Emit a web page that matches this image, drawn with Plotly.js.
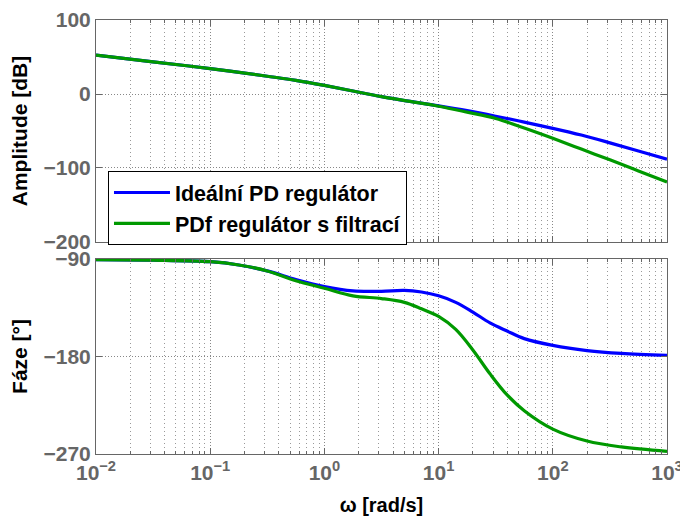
<!DOCTYPE html>
<html>
<head>
<meta charset="utf-8">
<script src="https://cdn.plot.ly/plotly-3.0.1.min.js"></script>
<style>html,body{margin:0;padding:0;background:#fff;}#chart{width:680px;height:516px;}</style>
</head>
<body>
<div id="chart"></div>
<script>
// Frequencies (rad/s) for the amplitude plot
const omegaMag = [0.01, 0.0316, 0.1, 0.316, 0.562, 1, 1.778, 3.162, 5.623, 10, 17.78, 31.62, 56.23, 100, 177.8, 316.2, 562.3, 1000];
const magIdeal = [52.5, 43.5, 34.3, 24, 18.5, 11.6, 4, -3.5, -10, -16, -22.5, -30, -38, -46.4, -55.5, -66, -77, -88];
const magFilt  = [52.5, 43.5, 34.3, 24, 18.5, 11.6, 4, -3.5, -10, -16.5, -24.5, -33, -46, -59.9, -74.5, -89, -104, -119];

// Frequencies (rad/s) for the phase plot
const omegaPh = [0.01, 0.0316, 0.1, 0.178, 0.316, 0.562, 1, 1.778, 3.162, 5.012, 7.079, 10, 14.13, 19.95, 28.18, 39.81, 56.23, 100, 199.5, 398.1, 1000];
const phIdeal = [-90.5, -91, -92.5, -95.5, -101, -109, -115.5, -119.5, -119.8, -119, -120.5, -124, -130, -139, -149, -156.5, -163.5, -169.7, -174.5, -177.2, -179];
const phFilt  = [-90.5, -91, -92.5, -95.5, -101, -110, -117, -124, -126.5, -130, -136, -143, -155, -174, -196, -215.5, -230, -247, -258, -263.5, -267.5];

const seriesNames = ['Ideální PD regulátor', 'PDf regulátor s filtrací'];
const xTickVals = [0.01, 0.1, 1, 10, 100, 1000];
const xTickText = ['10<sup>\u22122</sup>', '10<sup>\u22121</sup>', '10<sup>0</sup>', '10<sup>1</sup>', '10<sup>2</sup>', '10<sup>3</sup>'];
const magTicks = [-200, -100, 0, 100];
const phTicks = [-270, -180, -90];

// minor tick positions (2..9 in each decade)
const xMinor = [];
for (let d = -2; d < 3; d++) for (let m = 2; m <= 9; m++) xMinor.push(m * Math.pow(10, d));

const blue = '#0000ff', green = '#009900';
const FAM = 'Liberation Sans, Arial, Helvetica, sans-serif';
const tickFont = {family: FAM, size: 21, color: '#666666'};
const titleFont = {family: FAM, size: 21, color: '#000000'};
const b = s => '<b>' + s + '</b>';
const fmt = v => b(String(v).replace('-', '\u2212'));

const traces = [
  {x: omegaMag, y: magIdeal, xaxis: 'x', yaxis: 'y', name: b(seriesNames[0]), mode: 'lines',
   line: {color: blue, width: 3.2, shape: 'spline', smoothing: 1}},
  {x: omegaMag, y: magFilt, xaxis: 'x', yaxis: 'y', name: b(seriesNames[1]), mode: 'lines',
   line: {color: green, width: 3.2, shape: 'spline', smoothing: 1}},
  {x: omegaPh, y: phIdeal, xaxis: 'x2', yaxis: 'y2', name: seriesNames[0], mode: 'lines', showlegend: false,
   line: {color: blue, width: 3.2, shape: 'spline', smoothing: 1}},
  {x: omegaPh, y: phFilt, xaxis: 'x2', yaxis: 'y2', name: seriesNames[1], mode: 'lines', showlegend: false,
   line: {color: green, width: 3.2, shape: 'spline', smoothing: 1}}
];

const xCommon = {
  type: 'log', range: [-2, 3], tickmode: 'array', tickvals: xTickVals, ticktext: xTickText.map(b),
  ticklabeloverflow: 'allow',
  showline: true, linecolor: '#666666', linewidth: 1, mirror: 'ticks',
  ticks: 'inside', ticklen: 6, tickcolor: '#666666',
  showgrid: true, gridcolor: '#888888', griddash: '1px,2px', gridwidth: 1,
  minor: {tickmode: 'array', tickvals: xMinor, ticks: 'inside', ticklen: 3, tickcolor: '#666666',
          showgrid: true, gridcolor: '#999999', griddash: '1px,3px', gridwidth: 1},
  zeroline: false, tickfont: tickFont
};
const yCommon = {
  showline: true, linecolor: '#666666', linewidth: 1, mirror: 'ticks',
  ticks: 'inside', ticklen: 6, tickcolor: '#666666',
  showgrid: true, gridcolor: '#888888', griddash: '1px,2px', gridwidth: 1,
  zeroline: false, tickfont: tickFont, tickmode: 'array'
};

const layout = {
  width: 680, height: 516,
  margin: {l: 96, r: 13, t: 20, b: 62},
  paper_bgcolor: '#ffffff', plot_bgcolor: '#ffffff',
  showlegend: true,
  legend: {x: 0.021, y: 0.652, xanchor: 'left', yanchor: 'top', bgcolor: '#ffffff', bordercolor: '#000000', borderwidth: 1,
           itemwidth: 56, font: {family: FAM, size: 21.5, color: '#000000'}, tracegroupgap: 0},
  xaxis: Object.assign({}, xCommon, {anchor: 'y', showticklabels: false, matches: 'x2'}),
  yaxis: Object.assign({}, yCommon, {domain: [0.4885, 1], range: [-200, 100], tickvals: magTicks,
         ticktext: magTicks.map(fmt),
         title: {text: b('Amplitude [dB]'), font: titleFont, standoff: 10}}),
  xaxis2: Object.assign({}, xCommon, {anchor: 'y2', showticklabels: true,
         title: {text: b('\u03c9 [rad/s]'), font: {family: FAM, size: 20, color: '#000000'}, standoff: 14}}),
  yaxis2: Object.assign({}, yCommon, {domain: [0, 0.4493], range: [-270, -90], tickvals: phTicks,
         ticktext: phTicks.map(fmt),
         title: {text: b('Fáze [°]'), font: titleFont, standoff: 10}})
};

Plotly.newPlot('chart', traces, layout, {displayModeBar: false, staticPlot: true});
</script>
</body>
</html>
